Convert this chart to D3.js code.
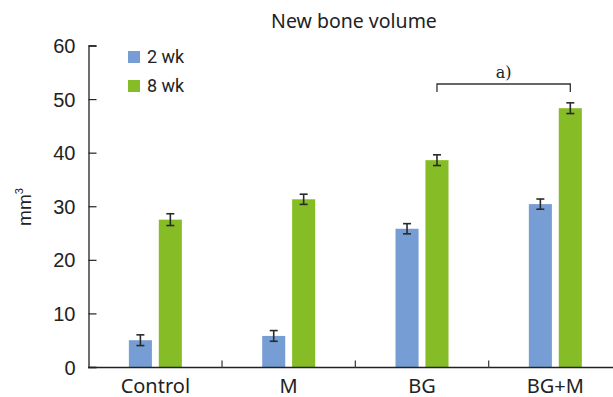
<!DOCTYPE html>
<html>
<head>
<meta charset="utf-8">
<script src="https://cdn.jsdelivr.net/npm/d3@7"></script>
<style>
  body { margin: 0; background: #fff; }
  svg { display: block; }
</style>
</head>
<body>
<svg id="chart" width="613" height="397"></svg>
<script>
var groups = ["Control", "M", "BG", "BG+M"];
var series = ["2 wk", "8 wk"];
var series_colors = ["#779ed4", "#86bc25"];
var vals_2wk = [5.0, 5.8, 25.8, 30.4];
var vals_8wk = [27.5, 31.3, 38.6, 48.3];
var err_2wk = [1.0, 1.0, 0.95, 0.95];
var err_8wk = [1.1, 0.95, 1.0, 1.0];
var y_ticks = [0, 10, 20, 30, 40, 50, 60];

var svg = d3.select("#chart");

var x = d3.scaleBand().domain(groups).range([88.7, 622]);
var x_inner = d3.scaleBand().domain(series).range([x.bandwidth() / 2 - 26.5, x.bandwidth() / 2 + 26.5]).paddingInner(0.23);
var y = d3.scaleLinear().domain([0, 60]).range([367, 45.5]);

var rows = [];
groups.forEach(function(g, i) {
   rows.push({ "group": g, "series": series[0], "value": vals_2wk[i], "err": err_2wk[i], "color": series_colors[0] });
   rows.push({ "group": g, "series": series[1], "value": vals_8wk[i], "err": err_8wk[i], "color": series_colors[1] });
});

// title
svg.append("text").attr("x", 354).attr("y", 28).attr("text-anchor", "middle")
   .style("font-family", "Noto Sans").style("font-size", "19.5px").attr("fill", "#222")
   .text("New bone volume");

// bars
svg.append("g").selectAll("rect").data(rows).enter().append("rect")
   .attr("x", function(d) { return x(d.group) + x_inner(d.series); })
   .attr("width", x_inner.bandwidth())
   .attr("y", function(d) { return y(d.value); })
   .attr("height", function(d) { return y(0) - y(d.value); })
   .attr("fill", function(d) { return d.color; });

// error bars
var eb = svg.append("g").attr("stroke", "#2a2a2a").attr("stroke-width", 1.6);
rows.forEach(function(d) {
   var cx = x(d.group) + x_inner(d.series) + x_inner.bandwidth() / 2;
   eb.append("line").attr("x1", cx).attr("x2", cx).attr("y1", y(d.value + d.err)).attr("y2", y(d.value - d.err));
   eb.append("line").attr("x1", cx - 4).attr("x2", cx + 4).attr("y1", y(d.value + d.err)).attr("y2", y(d.value + d.err));
   eb.append("line").attr("x1", cx - 4).attr("x2", cx + 4).attr("y1", y(d.value - d.err)).attr("y2", y(d.value - d.err));
});

// y axis
var y_axis = svg.append("g").attr("transform", "translate(88.5,0)")
   .call(d3.axisRight(y).tickValues(y_ticks).tickSize(8).tickFormat(d3.format("d")));
y_axis.select(".domain").attr("stroke", "#222").attr("stroke-width", 1.3);
y_axis.selectAll(".tick line").attr("stroke", "#222").attr("stroke-width", 1.2);
y_axis.selectAll(".tick text").attr("x", -13).attr("text-anchor", "end").attr("dy", "0.35em")
   .style("font-family", "Liberation Sans, Arial").style("font-size", "20px").attr("fill", "#222");

// x axis
var x_axis = svg.append("g").attr("transform", "translate(0,367.5)");
x_axis.append("line").attr("x1", 88).attr("x2", 613).attr("y1", 0).attr("y2", 0)
   .attr("stroke", "#222").attr("stroke-width", 1.6);
x_axis.selectAll("line.sep").data(groups.slice(1)).enter().append("line").attr("class", "sep")
   .attr("x1", function(d) { return x(d); }).attr("x2", function(d) { return x(d); })
   .attr("y1", 0).attr("y2", -7).attr("stroke", "#444").attr("stroke-width", 1.3);
x_axis.selectAll("text").data(groups).enter().append("text")
   .attr("x", function(d) { return x(d) + x.bandwidth() / 2; }).attr("y", 25)
   .attr("text-anchor", "middle")
   .style("font-family", "Noto Sans").style("font-size", "20px").attr("fill", "#222")
   .text(function(d) { return d; });

// y label
var ylab = svg.append("text").attr("transform", "translate(31,207) rotate(-90)")
   .attr("text-anchor", "middle").style("font-family", "Liberation Sans, Arial").style("font-size", "19px").attr("fill", "#222");
ylab.append("tspan").text("mm");
ylab.append("tspan").attr("dy", -8).style("font-size", "11px").text("3");

// legend
var legend = svg.append("g");
series.forEach(function(s, i) {
   legend.append("rect").attr("x", 128).attr("y", 51 + i * 29).attr("width", 12).attr("height", 12).attr("fill", series_colors[i]);
   legend.append("text").attr("x", 147).attr("y", 63 + i * 29)
      .style("font-family", "Roboto").style("font-size", "18px").attr("fill", "#222").text(s);
});

// significance bracket
var bx1 = x("BG") + x_inner("8 wk") + x_inner.bandwidth() / 2;
var bx2 = x("BG+M") + x_inner("8 wk") + x_inner.bandwidth() / 2;
svg.append("path").attr("d", "M" + bx1 + ",92V84H" + bx2 + "V92")
   .attr("fill", "none").attr("stroke", "#333").attr("stroke-width", 1.3);
svg.append("text").attr("x", (bx1 + bx2) / 2).attr("y", 78).attr("text-anchor", "middle")
   .style("font-family", "DejaVu Serif").style("font-size", "16px").attr("fill", "#222").text("a)");
</script>
</body>
</html>
